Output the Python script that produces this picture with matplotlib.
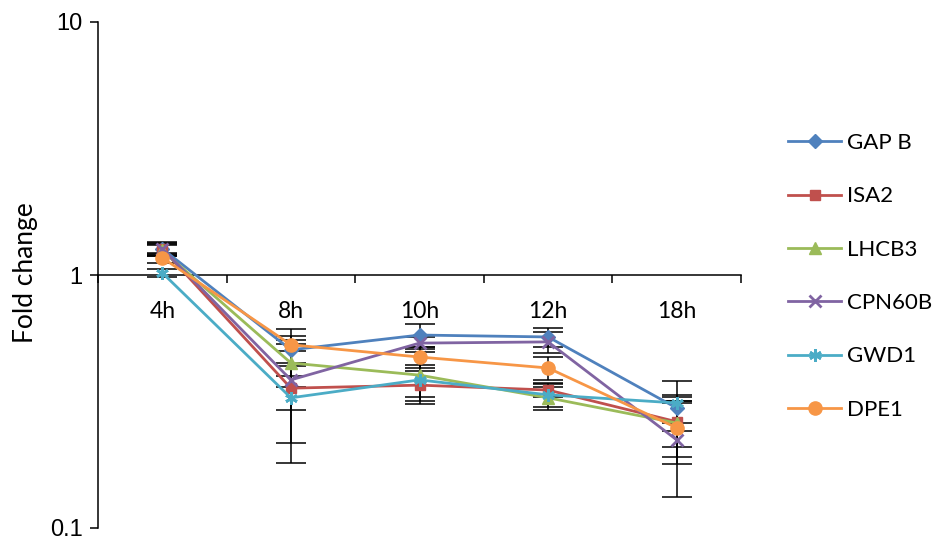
import matplotlib
matplotlib.use("Agg")
import matplotlib.pyplot as plt
from matplotlib.ticker import FixedLocator, NullLocator, FixedFormatter
import numpy as np

# categories and series (fold change)
times = ["4h", "8h", "10h", "12h", "18h"]
gap_b = [1.27, 0.506, 0.579, 0.569, 0.298]
isa2 = [1.27, 0.357, 0.367, 0.351, 0.263]
lhcb3 = [1.25, 0.449, 0.402, 0.327, 0.260]
cpn60b = [1.27, 0.385, 0.538, 0.544, 0.223]
gwd1 = [1.02, 0.327, 0.385, 0.336, 0.312]
dpe1 = [1.17, 0.530, 0.474, 0.429, 0.249]

# error bar half widths
gap_b_err = [0.08, 0.068, 0.060, 0.048, 0.038]
isa2_err = [0.06, 0.176, 0.050, 0.023, 0.054]
lhcb3_err = [0.06, 0.050, 0.092, 0.034, 0.070]
cpn60b_err = [0.07, 0.168, 0.030, 0.051, 0.090]
gwd1_err = [0.04, 0.034, 0.055, 0.036, 0.070]
dpe1_err = [0.05, 0.080, 0.045, 0.045, 0.070]

series = [
    ("GAP B", gap_b, gap_b_err, "#4F81BD", "D", 7),
    ("ISA2", isa2, isa2_err, "#C0504D", "s", 7),
    ("LHCB3", lhcb3, lhcb3_err, "#9BBB59", "^", 8),
    ("CPN60B", cpn60b, cpn60b_err, "#8064A2", "x", 8),
    ("GWD1", gwd1, gwd1_err, "#4BACC6", (6, 2, 0), 9),
    ("DPE1", dpe1, dpe1_err, "#F79646", "o", 9.5),
]

fig = plt.figure(figsize=(9.36, 5.43), dpi=100)
ax = fig.add_axes([98 / 936, 1 - 528 / 543, 643 / 936, 506 / 543])

x = np.arange(len(times))

# error bars under the lines
for name, vals, errs, col, mk, ms in series:
    ax.errorbar(x, vals, yerr=errs, fmt="none", ecolor="black",
                elinewidth=1.1, capsize=11, capthick=1.1, zorder=2)

for name, vals, errs, col, mk, ms in series:
    ax.plot(x, vals, color=col, lw=2, marker=mk, markersize=ms,
            markeredgewidth=2 if mk in ("x", (6, 2, 0)) else 1,
            markerfacecolor=col, markeredgecolor=col, label=name, zorder=3)

ax.set_yscale("log")
ax.set_ylim(0.1, 10)
ax.set_xlim(-0.5, len(times) - 0.5)

ax.spines["top"].set_visible(False)
ax.spines["right"].set_visible(False)
ax.spines["bottom"].set_position(("data", 1))
for s in ("left", "bottom"):
    ax.spines[s].set_linewidth(1.1)

ax.yaxis.set_major_locator(FixedLocator([0.1, 1, 10]))
ax.yaxis.set_major_formatter(FixedFormatter(["0.1", "1", "10"]))
ax.yaxis.set_minor_locator(NullLocator())
ax.tick_params(axis="y", direction="out", length=6, width=1.1, pad=5,
               labelsize=17)
for lab in ax.get_yticklabels():
    lab.set_family("Liberation Sans")

ax.set_xticks(x)
ax.set_xticklabels(times, family="Lato", fontsize=16.5)
ax.set_xticks(np.arange(-0.5, len(times)), minor=True)
ax.tick_params(axis="x", which="major", length=0, pad=19)
ax.tick_params(axis="x", which="minor", direction="out", length=6, width=1.1)

fig.text(25 / 936, 1 - 273 / 543, "Fold change", rotation=90, ha="center",
         va="center", family="Lato", fontsize=19)

ax.legend(loc="center left", bbox_to_anchor=(788 / 936, 1 - 276.5 / 543),
          bbox_transform=fig.transFigure, frameon=False,
          prop={"family": "Lato", "size": 16}, handlelength=2.4,
          handletextpad=0.25, labelspacing=1.5, borderpad=0, borderaxespad=0)

fig.savefig("out.png", dpi=100)
